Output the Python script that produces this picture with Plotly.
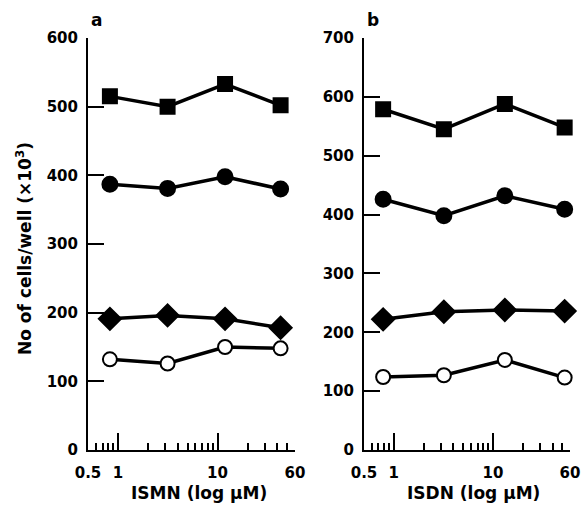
import math
import plotly.graph_objects as go

# ---- data ----
conc_a = [0.83, 3.15, 11.9, 43]  # µM, as placed in panel a
conc_b = [0.78, 3.2, 13.2, 53]   # µM, as placed in panel b
a_square = [515, 500, 533, 502]
a_circle = [387, 381, 398, 380]
a_diamond = [191, 196, 191, 178]
a_open = [132, 126, 150, 148]
b_square = [579, 545, 588, 548]
b_circle = [426, 398, 432, 409]
b_diamond = [222, 235, 238, 236]
b_open = [124, 127, 153, 123]

x_tickvals = [0.5, 1, 10, 60]
x_ticktext = ["0.5", "1", "10", "60"]
x_minor = [0.6, 0.7, 0.8, 0.9, 2, 3, 4, 5, 6, 7, 8, 9, 20, 30, 40, 50]
ya_ticks = [0, 100, 200, 300, 400, 500, 600]
yb_ticks = [0, 100, 200, 300, 400, 500, 600, 700]

FONT = "DejaVu Sans"
W, H = 581, 511

fig = go.Figure()

styles = [
    ("square", "black", 14),
    ("circle", "black", 15),
    ("diamond", "black", 17),
    ("circle", "white", 14),
]

for (xa, ya), xs, series in [(("x", "y"), conc_a, [a_square, a_circle, a_diamond, a_open]),
                             (("x2", "y2"), conc_b, [b_square, b_circle, b_diamond, b_open])]:
    for vals, (sym, fill, size) in zip(series, styles):
        fig.add_trace(go.Scatter(
            x=xs, y=vals, xaxis=xa, yaxis=ya, mode="lines+markers",
            line=dict(color="black", width=3.5),
            marker=dict(symbol=sym, color=fill, size=size,
                        line=dict(color="black", width=2)),
            cliponaxis=False, showlegend=False,
        ))

def px_x(p):
    return p / W

def px_y(p):
    return 1 - p / H

tickfont = dict(family=FONT, size=15, color="black", weight=700)

xaxis_common = dict(
    type="log", range=[math.log10(0.5), math.log10(60)],
    tickmode="array", tickvals=x_tickvals, ticktext=x_ticktext,
    ticks="inside", ticklen=17, tickwidth=2, tickcolor="black",
    minor=dict(tickmode="array", tickvals=x_minor, ticks="inside",
               ticklen=7, tickwidth=1.5, tickcolor="black"),
    showline=True, linewidth=2, linecolor="black",
    showgrid=False, zeroline=False, automargin=False,
    tickfont=tickfont, ticklabelstandoff=8,
)
yaxis_common = dict(
    ticks="inside", ticklen=16, tickwidth=2, tickcolor="black",
    showline=True, linewidth=2, linecolor="black",
    showgrid=False, zeroline=False, automargin=False,
    tickfont=tickfont, ticklabelstandoff=5, tickmode="array",
)

def ann(text, x, y, size, angle=0):
    return dict(text=text, x=px_x(x), y=px_y(y), xref="paper", yref="paper",
                xanchor="center", yanchor="middle", textangle=angle,
                showarrow=False,
                font=dict(family=FONT, size=size, color="black", weight=700))

fig.update_layout(
    template="none",
    width=W, height=H,
    margin=dict(l=0, r=0, t=0, b=0),
    plot_bgcolor="white", paper_bgcolor="white",
    xaxis=dict(domain=[px_x(88), px_x(295)], anchor="y", **xaxis_common),
    xaxis2=dict(domain=[px_x(364), px_x(570)], anchor="y2", **xaxis_common),
    yaxis=dict(domain=[px_y(450), px_y(38)], anchor="x", range=[0, 600],
               tickvals=ya_ticks, ticktext=[str(v) for v in ya_ticks], **yaxis_common),
    yaxis2=dict(domain=[px_y(450), px_y(38)], anchor="x2", range=[0, 700],
                tickvals=yb_ticks, ticktext=[str(v) for v in yb_ticks], **yaxis_common),
    annotations=[
        ann("a", 97, 20, 17),
        ann("b", 373, 20, 17),
        ann("ISMN (log μM)", 199, 493, 17),
        ann("ISDN (log μM)", 473, 493, 17),
        ann("No of cells/well (×10<sup>3</sup>)", 24, 249, 17, -90),
    ],
)

fig.write_html("out.html")
